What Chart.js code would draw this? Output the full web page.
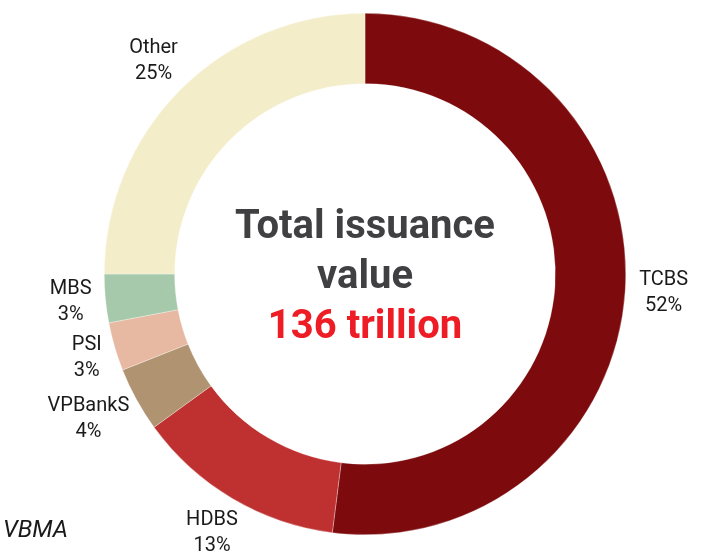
<!DOCTYPE html>
<html>
<head>
<meta charset="utf-8">
<script src="https://cdn.jsdelivr.net/npm/chart.js@4"></script>
<style>
  html, body { margin: 0; padding: 0; background: #ffffff; }
  #wrap { width: 706px; height: 552px; position: relative; }
</style>
</head>
<body>
<div id="wrap"><canvas id="issuanceChart"></canvas></div>
<script>
// Datos del gráfico
const categories = ['TCBS', 'HDBS', 'VPBankS', 'PSI', 'MBS', 'Other'];
const shares = [52, 13, 4, 3, 3, 25];
const sliceColors = ['#7d0a0c', '#bf3131', '#b09371', '#e8b9a2', '#a5c9aa', '#f3edc9'];
const centerLines = ['Total issuance', 'value'];
const centerValue = '136 trillion';
const sourceText = 'VBMA';

// Etiquetas fuera del anillo (estilo "outside end") + texto central
const labelPlugin = {
  id: 'labelPlugin',
  afterDatasetsDraw(chart) {
    const ctx = chart.ctx;
    const meta = chart.getDatasetMeta(0);
    ctx.save();
    ctx.textAlign = 'center';
    ctx.textBaseline = 'middle';
    ctx.fillStyle = '#1a1a1a';
    ctx.font = '20px Roboto';
    meta.data.forEach((arc, i) => {
      const p = arc.getProps(['x', 'y', 'startAngle', 'endAngle', 'outerRadius'], true);
      const mid = (p.startAngle + p.endAngle) / 2;
      const line1 = categories[i];
      const line2 = shares[i] + '%';
      const w = Math.max(ctx.measureText(line1).width, ctx.measureText(line2).width);
      const h = 52;
      const r = p.outerRadius + 14;
      const dx = Math.cos(mid), dy = Math.sin(mid);
      const cx = p.x + dx * r + dx * w / 2;
      const cy = p.y + dy * r + dy * h / 2;
      ctx.fillText(line1, cx, cy - 13);
      ctx.fillText(line2, cx, cy + 13);
    });

    // Texto central
    const c = meta.data[0];
    ctx.font = 'bold 40px Roboto';
    ctx.textBaseline = 'alphabetic';
    ctx.fillStyle = '#404042';
    ctx.fillText(centerLines[0], c.x, 238);
    ctx.fillText(centerLines[1], c.x, 288);
    ctx.fillStyle = '#ee1c25';
    ctx.fillText(centerValue, c.x, 338);

    // Fuente
    ctx.font = 'italic 24px Roboto';
    ctx.fillStyle = '#1a1a1a';
    ctx.textAlign = 'right';
    ctx.fillText(sourceText, 68, 537);
    ctx.restore();
  }
};

function initIssuanceChart() {
  const ctx = document.getElementById('issuanceChart');
  if (!ctx) return;

  new Chart(ctx, {
    type: 'doughnut',
    data: {
      labels: categories,
      datasets: [{
        data: shares,
        backgroundColor: sliceColors,
        borderColor: 'rgba(255, 255, 255, 0.6)',
        borderWidth: 0.5
      }]
    },
    options: {
      responsive: true,
      maintainAspectRatio: false,
      animation: false,
      cutout: '73%',
      layout: {
        padding: { top: 13, bottom: 17, left: 24, right: 0 }
      },
      plugins: {
        legend: { display: false },
        tooltip: { enabled: false }
      }
    },
    plugins: [labelPlugin]
  });
}

if (document.readyState === 'loading') {
  document.addEventListener('DOMContentLoaded', initIssuanceChart);
} else {
  initIssuanceChart();
}
</script>
</body>
</html>
